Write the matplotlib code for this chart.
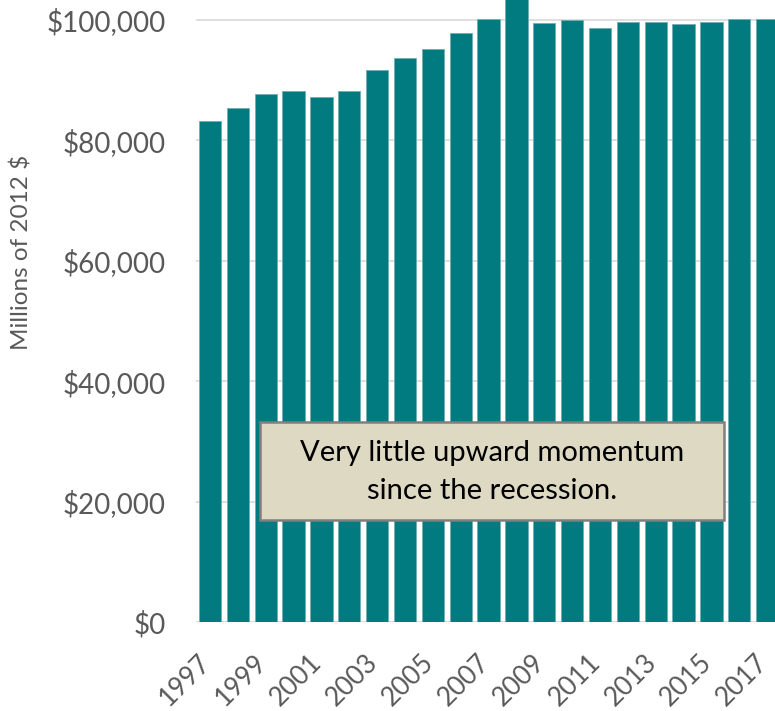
import numpy as np
import matplotlib
matplotlib.use("Agg")
import matplotlib.pyplot as plt
from matplotlib.patches import Rectangle
from matplotlib.ticker import FuncFormatter
from matplotlib.transforms import ScaledTranslation

# values (millions of 2012 $)
years = list(range(1997, 2018))
values = [83150, 85300, 87650, 88150, 87200, 88150, 91750, 93700, 95250,
          97800, 100200, 104500, 99450, 100000, 98700, 99600, 99600, 99400,
          99700, 100100, 100100]
tick_years = years[::2]
note = "Very little upward momentum\nsince the recession."

plt.rcParams['font.family'] = ['Lato', 'DejaVu Sans']

fig = plt.figure(figsize=(7.75, 7.11), dpi=100)
ax = fig.add_axes([196 / 775, 1 - 622 / 711, 585 / 775, 622 / 711])

x = np.arange(len(years))
ax.bar(x, values, width=0.8, color='#017B7F', edgecolor='#6FB0B2',
       linewidth=0.6, zorder=3)

ax.set_xlim(-0.5, len(years) - 0.5)
ax.set_ylim(0, 103322)
ax.set_yticks(np.arange(0, 100001, 20000))
ax.yaxis.set_major_formatter(FuncFormatter(lambda v, p: f"${v:,.0f}"))
ax.grid(axis='y', color='#D9D9D9', linewidth=1.2, zorder=0)
ax.axhline(0, color='#D9D9D9', linewidth=1.5, zorder=2)

ax.set_xticks([years.index(y) for y in tick_years])
ax.set_xticklabels([str(y) for y in tick_years], rotation=45, ha='right',
                   va='baseline', rotation_mode='anchor')
ax.tick_params(axis='x', length=0, pad=30, labelsize=19, labelcolor='#595959')
ax.tick_params(axis='y', length=0, pad=22, labelsize=20, labelcolor='#595959')
shift = ScaledTranslation(2 / 100, 0, fig.dpi_scale_trans)
for lab in ax.get_xticklabels():
    lab.set_transform(lab.get_transform() + shift)
for s in ax.spines.values():
    s.set_visible(False)

fig.text(22 / 775, 1 - 252 / 711, "Millions of 2012 $", rotation=90,
         ha='center', va='center', fontsize=17.5, color='#595959')

# annotation box
fig.patches.append(Rectangle((260 / 775, 1 - 520 / 711), 464 / 775, 98 / 711,
                             transform=fig.transFigure, facecolor='#DDD9C3',
                             edgecolor='#7F7F7F', linewidth=1.8, zorder=5))
fig.text(492 / 775, 1 - 472 / 711, note, ha='center', va='center',
         fontsize=21, color='black', linespacing=1.55, zorder=6)

fig.savefig("out.png", dpi=100)
